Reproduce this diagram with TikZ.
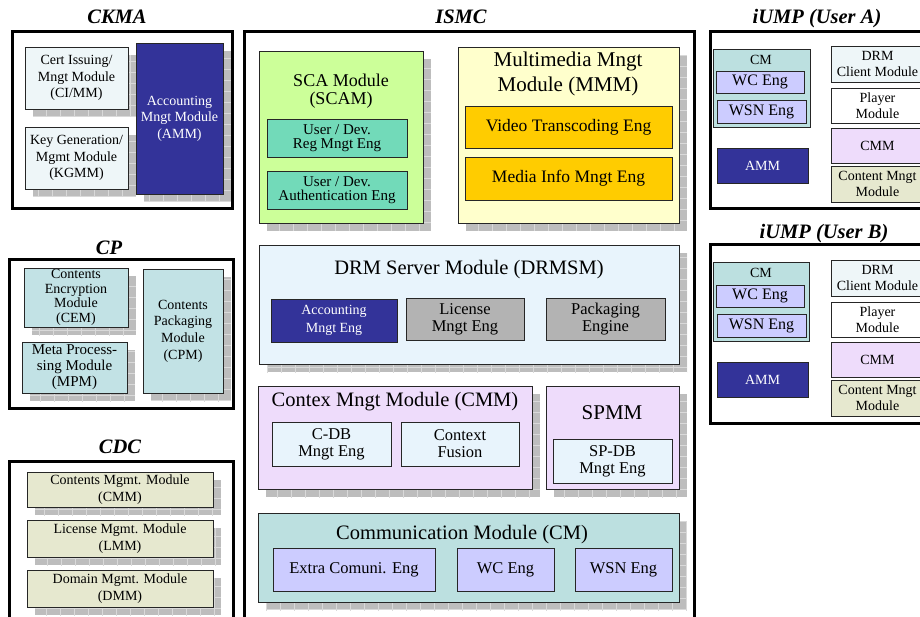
\documentclass[tikz,border=0pt]{standalone}
\usepackage{fontspec}
\setmainfont{Liberation Serif}
\usetikzlibrary{shadows}
\definecolor{lcyan}{HTML}{EEF6F8}
\definecolor{cpteal}{HTML}{C2E2E5}
\definecolor{cmteal}{HTML}{BCE0E0}
\definecolor{olive}{HTML}{E6E8CF}
\definecolor{navy}{HTML}{333399}
\definecolor{lgreen}{HTML}{CCFF99}
\definecolor{mint}{HTML}{72DAB9}
\definecolor{pyellow}{HTML}{FFFFCC}
\definecolor{gold}{HTML}{FFCC00}
\definecolor{lblue}{HTML}{E8F4FC}
\definecolor{mgray}{HTML}{B3B3B3}
\definecolor{laven}{HTML}{EEDCFB}
\definecolor{peri}{HTML}{CCCCFF}
\definecolor{shgray}{HTML}{BDBDBD}
\definecolor{shline}{HTML}{D9D9D9}
\newcommand\bx[7]{\node[#6, minimum width={#4-#2}, minimum height={#5-#3}] (#1) at ({(#2+#4)/2},{(#3+#5)/2}) {#7};}
\tikzset{
  mbox/.style={draw=black!85, line width=0.9pt, inner sep=0pt, outer sep=0pt, align=center},
  frame/.style={draw=black, line width=3pt, inner sep=0pt, outer sep=0pt, fill=white},
  shd/.style={general shadow={shadow xshift=8pt, shadow yshift=-8pt, fill=shgray,
     path picture={\draw[shline, line width=0.6pt] ([shift={(-1pt,-1pt)}]path picture bounding box.south west) grid[xstep=14pt, ystep=11pt] (path picture bounding box.north east);}}},
  ttl/.style={font=\fontsize{20.5}{24}\selectfont\bfseries\itshape, inner sep=0pt},
  txt/.style={inner sep=0pt, align=center},
  f14/.style={font=\fontsize{14}{16.6}\selectfont},
}
\begin{document}
\begin{tikzpicture}[x=1pt,y=-1pt]
\useasboundingbox (0,0) rectangle (920,617);
\clip (0,0) rectangle (920,617);
\fill[white] (0,0) rectangle (920,617);

% ---------------- CKMA ----------------
\node[ttl] (ckmaT) at (117,17) {CKMA};
\bx{ckma}{12}{32}{232}{209}{frame}{}
\bx{cimm}{25}{47}{128}{109}{mbox,shd,fill=lcyan,f14}{Cert Issuing/\\Mngt Module\\(CI/MM)}
\bx{kgmm}{25}{127}{128}{189}{mbox,shd,fill=lcyan,f14}{Key Generation/\\Mgmt Module\\(KGMM)}
\bx{amm}{136}{43}{223}{194}{mbox,shd,fill=navy,text=white,f14}{Accounting\\Mngt Module\\(AMM)}

% ---------------- CP ----------------
\node[ttl] (cpT) at (109,248) {CP};
\bx{cp}{9}{260}{233}{408}{frame}{}
\bx{cem}{24}{268}{128}{327}{mbox,shd,fill=cpteal,font=\fontsize{14}{14.6}\selectfont}{Contents\\Encryption\\Module\\(CEM)}
\bx{mpm}{22}{342}{127}{393}{mbox,shd,fill=cpteal,font=\fontsize{15}{16}\selectfont}{Meta Process-\\sing Module\\(MPM)}
\bx{cpm}{143}{269}{223}{393}{mbox,shd,fill=cpteal,f14}{Contents\\Packaging\\Module\\(CPM)}

% ---------------- CDC ----------------
\node[ttl] (cdcT) at (120,447) {CDC};
\bx{cdc}{9}{461}{233}{650}{frame}{}
\bx{cdcm}{27}{472}{213}{507}{mbox,shd,fill=olive,f14}{Contents Mgmt. Module\\(CMM)}
\bx{lmm}{27}{520}{213}{557}{mbox,shd,fill=olive,f14}{License Mgmt. Module\\(LMM)}
\bx{dmm}{27}{570}{213}{607}{mbox,shd,fill=olive,f14}{Domain Mgmt. Module\\(DMM)}

% ---------------- ISMC ----------------
\node[ttl] (ismcT) at (461,17) {ISMC};
\bx{ismc}{244}{32}{694}{650}{frame}{}
% SCAM
\bx{scam}{259}{51}{423}{223}{mbox,shd,fill=lgreen}{}
\node[txt, font=\fontsize{18}{18.5}\selectfont] (scamT) at (341,91) {SCA Module\\(SCAM)};
\bx{reg}{267}{119}{407}{157}{mbox,fill=mint,font=\fontsize{15}{13.6}\selectfont}{User / Dev.\\Reg Mngt Eng}
\bx{auth}{267}{171}{407}{209}{mbox,fill=mint,font=\fontsize{15}{13.6}\selectfont}{User / Dev.\\Authentication Eng}
% MMM
\bx{mmm}{458}{47}{679}{223}{mbox,shd,fill=pyellow}{}
\node[txt, font=\fontsize{21}{25.5}\selectfont] (mmmT) at (568,74) {Multimedia Mngt\\Module (MMM)};
\bx{video}{465}{106}{672}{148}{mbox,fill=gold,font=\fontsize{17.5}{20}\selectfont}{Video Transcoding Eng}
\bx{media}{465}{157}{672}{200}{mbox,fill=gold,font=\fontsize{17.5}{20}\selectfont}{Media Info Mngt Eng}
% DRMSM
\bx{drmsm}{259}{245}{679}{364}{mbox,shd,fill=lblue}{}
\node[txt, font=\fontsize{20.5}{24}\selectfont] (drmsmT) at (469,270) {DRM Server Module (DRMSM)};
\bx{acc}{271}{299}{397}{342}{mbox,fill=navy,text=white,font=\fontsize{14}{18}\selectfont}{Accounting\\Mngt Eng}
\bx{lic}{406}{298}{524}{340}{mbox,fill=mgray,font=\fontsize{16.5}{17}\selectfont}{License\\Mngt Eng}
\bx{pack}{546}{298}{665}{340}{mbox,fill=mgray,font=\fontsize{16.5}{17}\selectfont}{Packaging\\Engine}
% Contex CMM
\bx{cxmm}{258}{386}{532}{489}{mbox,shd,fill=laven}{}
\node[txt, font=\fontsize{20.5}{24}\selectfont] (cxmmT) at (395,402) {Contex Mngt Module (CMM)};
\bx{cdb}{272}{422}{391}{466}{mbox,fill=lblue,font=\fontsize{16.5}{17}\selectfont}{C-DB\\Mngt Eng}
\bx{cfus}{401}{422}{519}{466}{mbox,fill=lblue,font=\fontsize{16.5}{17}\selectfont}{Context\\Fusion}
% SPMM
\bx{spmm}{546}{386}{679}{489}{mbox,shd,fill=laven}{}
\node[txt, font=\fontsize{21}{24}\selectfont] (spmmT) at (612,413) {SPMM};
\bx{spdb}{553}{439}{672}{483}{mbox,fill=lblue,font=\fontsize{16.5}{17}\selectfont}{SP-DB\\Mngt Eng}
% CM
\bx{cm}{258}{513}{679}{602}{mbox,shd,fill=cmteal}{}
\node[txt, font=\fontsize{20.5}{24}\selectfont] (cmT) at (462,535) {Communication Module (CM)};
\bx{extra}{273}{548}{435}{591}{mbox,fill=peri,font=\fontsize{16.5}{20}\selectfont}{Extra Comuni. Eng}
\bx{wc}{457}{548}{554}{591}{mbox,fill=peri,font=\fontsize{16.5}{20}\selectfont}{WC Eng}
\bx{wsn}{575}{548}{672}{591}{mbox,fill=peri,font=\fontsize{16.5}{20}\selectfont}{WSN Eng}

% ---------------- iUMP (User A) ----------------
\node[ttl] (iumpAT) at (817,19) {iUMP (User A)};
\bx{iumpA}{710}{32}{940}{209}{frame}{}
\bx{cmA}{713}{49}{810}{127}{mbox,fill=cmteal}{}
\node[txt, f14] (cmAT) at (761,60) {CM};
\bx{wcA}{716}{71}{804}{93}{mbox,fill=peri,font=\fontsize{16}{18}\selectfont}{WC Eng}
\bx{wsnA}{717}{100}{806}{123}{mbox,fill=peri,font=\fontsize{16}{18}\selectfont}{WSN Eng}
\bx{ammA}{717}{148}{808}{183}{mbox,fill=navy,text=white,f14}{AMM}
\bx{drmA}{831}{46}{924}{82}{mbox,fill=lcyan,font=\fontsize{14}{16}\selectfont}{DRM\\Client Module}
\bx{plA}{831}{88}{924}{123}{mbox,fill=white,font=\fontsize{14}{16}\selectfont}{Player\\Module}
\bx{cmmA}{831}{128}{924}{163}{mbox,fill=laven,f14}{CMM}
\bx{cntA}{831}{166}{924}{202}{mbox,fill=olive,font=\fontsize{14}{16}\selectfont}{Content Mngt\\Module}

% ---------------- iUMP (User B) ----------------
\node[ttl] (iumpBT) at (824,234) {iUMP (User B)};
\bx{iumpB}{710}{245}{940}{423}{frame}{}
\bx{cmB}{713}{262}{809}{341}{mbox,fill=cmteal}{}
\node[txt, f14] (cmBT) at (761,273) {CM};
\bx{wcB}{716}{285}{804}{307}{mbox,fill=peri,font=\fontsize{16}{18}\selectfont}{WC Eng}
\bx{wsnB}{717}{314}{806}{337}{mbox,fill=peri,font=\fontsize{16}{18}\selectfont}{WSN Eng}
\bx{ammB}{717}{362}{808}{397}{mbox,fill=navy,text=white,f14}{AMM}
\bx{drmB}{831}{260}{924}{296}{mbox,fill=lcyan,font=\fontsize{14}{16}\selectfont}{DRM\\Client Module}
\bx{plB}{831}{302}{924}{337}{mbox,fill=white,font=\fontsize{14}{16}\selectfont}{Player\\Module}
\bx{cmmB}{831}{342}{924}{377}{mbox,fill=laven,f14}{CMM}
\bx{cntB}{831}{380}{924}{416}{mbox,fill=olive,font=\fontsize{14}{16}\selectfont}{Content Mngt\\Module}
\end{tikzpicture}
\end{document}
